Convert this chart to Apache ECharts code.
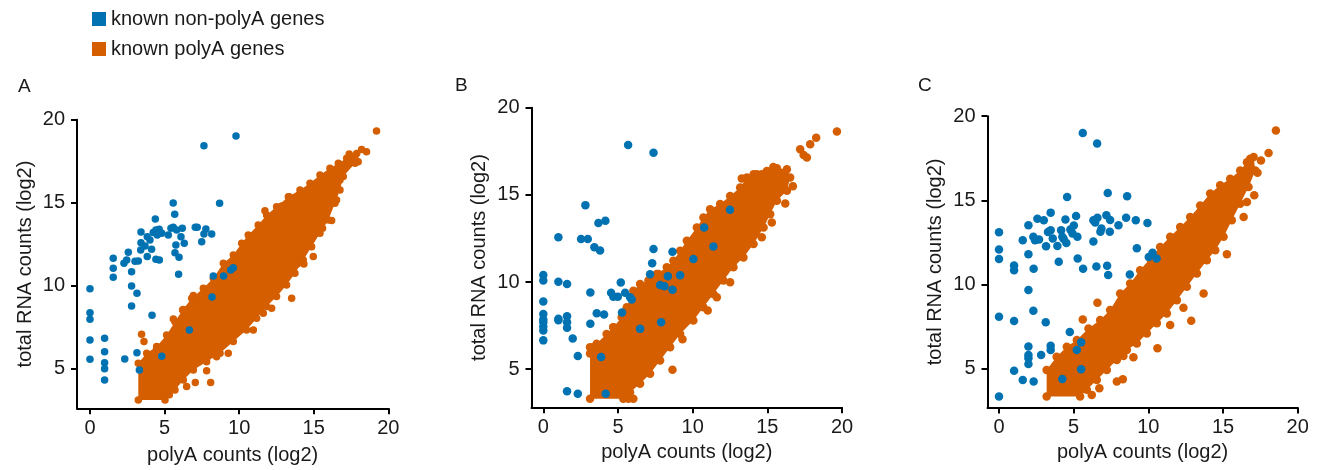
<!DOCTYPE html>
<html>
<head>
<meta charset="utf-8">
<script src="https://cdn.jsdelivr.net/npm/echarts@6/dist/echarts.min.js"></script>
<style>
  html, body { margin: 0; padding: 0; background: #ffffff; }
  #chart { width: 1331px; height: 470px; }
</style>
</head>
<body>
<div id="chart"></div>
<script>
// ---- labels ----
const SERIES_NAMES = ['known non-polyA genes', 'known polyA genes'];
const PANEL_LABELS = ['A', 'B', 'C'];
const X_TICKS = [0, 5, 10, 15, 20];
const Y_TICKS = [5, 10, 15, 20];
const X_TITLE = 'polyA counts (log2)';
const Y_TITLE = 'total RNA counts (log2)';

// ---- panel A ----
const nonPolyA_A = [
  [9.79,19.02],[7.64,18.43],[5.58,14.98],[8.69,14.96],[5.68,14.30],[4.38,14.02],[3.42,13.23],
  [3.84,12.95],[3.42,12.59],[3.40,12.15],[4.42,13.36],[4.64,13.40],[4.51,13.05],[4.81,13.16],
  [4.24,13.20],[4.02,12.75],[3.69,12.39],[4.13,12.19],[3.84,11.75],[4.42,11.59],[4.65,11.55],
  [2.57,12.01],[2.46,11.55],[2.28,11.35],[3.24,11.49],[3.02,11.47],[1.56,11.65],[1.56,11.05],
  [1.56,10.51],[2.79,10.84],[2.79,9.98],[3.15,9.54],[2.79,8.78],[4.16,8.22],[5.25,13.05],
  [5.43,13.46],[5.58,13.52],[5.81,13.36],[6.19,13.46],[6.10,12.95],[5.76,12.45],[5.70,11.99],
  [5.97,11.71],[6.32,12.55],[5.94,10.69],[7.06,13.52],[7.19,13.52],[7.77,13.42],[7.64,13.11],
  [8.16,13.11],[7.49,12.65],[8.27,10.58],[8.96,10.58],[9.43,10.95],[9.61,11.08],[8.18,9.32],
  [6.66,7.33],[4.81,5.75],[3.31,4.92],[3.15,5.96],[2.33,5.58],[0,9.82],[0,8.37],[0,7.98],
  [0,6.73],[0,5.57],[0.98,6.83],[0.98,6.02],[0.98,5.36],[0.98,5.00],[0.98,4.32]
];
// outline of the dense polyA cloud (upper edge, then lower edge back down)
const polyACloud_A = [
  [3.24,3.11],[3.24,5.32],[3.80,5.92],[4.47,6.33],[5.14,7.03],[5.70,7.83],[6.21,8.54],[6.82,9.24],
  [7.60,9.84],[8.27,10.44],[8.94,11.35],[9.61,11.85],[10.17,12.55],[10.61,13.05],[11.28,13.66],
  [11.84,14.26],[12.51,14.76],[13.30,15.36],[14.08,15.77],[14.75,16.17],[15.42,16.67],[16.09,17.07],
  [16.65,17.37],[17.21,17.67],[17.88,17.97],
  [17.77,17.37],[16.98,16.57],[16.76,15.77],[16.42,14.96],[15.98,13.96],[15.42,13.16],[14.86,12.35],
  [14.30,11.55],[13.74,10.75],[13.18,10.04],[12.51,9.34],[11.84,8.74],[11.17,8.03],[10.50,7.33],
  [9.61,6.63],[8.72,5.92],[7.82,5.42],[6.93,4.92],[6.26,4.32],[5.70,3.72],[5.03,3.11]
];
const polyA_A = [
  [19.21,19.32],[18.54,18.07],[18.21,18.21],[17.38,17.93],[17.98,17.47],[17.76,17.77],[16.53,15.16],
  [16.20,13.92],[15.59,13.46],[14.34,11.31],[13.90,11.31],[13.52,9.24],[12.85,10.24],[9.27,5.92],
  [7.82,4.88],[7.06,4.16],[8.09,4.16],[5.32,3.42],[11.73,14.52],[12.85,14.80],[13.36,15.36],
  [3.46,7.07],[3.62,6.63],[4.47,6.23],[5.59,7.99],[6.26,8.57],[6.93,9.40],[16.76,16.37],
  [14.97,11.75],[12.18,8.64],[11.62,8.33],[10.95,7.33],[8.49,5.72],[6.48,3.92]
];

// ---- panel B ----
const nonPolyA_B = [
  [5.68,17.86],[7.38,17.42],[2.82,14.41],[3.69,13.38],[4.16,13.51],[1.01,12.56],[2.53,12.47],
  [2.98,12.47],[3.42,11.99],[3.80,11.80],[7.38,11.89],[8.65,11.74],[7.29,11.07],[7.15,10.44],
  [8.34,10.33],[9.16,10.38],[7.82,9.83],[8.11,9.75],[8.65,9.55],[5.19,9.97],[4.54,9.38],
  [4.69,9.16],[4.99,9.16],[5.48,9.38],[5.81,9.12],[5.92,8.99],[3.15,9.39],[3.58,8.21],
  [4.07,8.13],[5.27,8.25],[3.15,7.60],[6.48,7.31],[7.89,7.69],[3.87,5.69],[1.97,6.76],
  [2.31,5.75],[1.59,3.73],[2.31,3.59],[4.18,3.59],[1.59,9.89],[1.01,10.02],[1.01,7.89],
  [1.01,7.80],[1.59,8.04],[1.59,7.69],[1.59,7.37],[0,10.40],[0,10.08],[0,8.88],[0,8.17],
  [0,7.85],[0,7.69],[0,7.45],[0,7.22],[0,6.65],[10.77,13.13],[11.39,12.04],[10.05,11.32],
  [12.50,14.14]
];
const polyACloud_B = [
  [3.13,3.30],[3.13,6.26],[3.57,6.45],[4.24,7.02],[4.69,7.40],[5.25,7.98],[5.59,8.55],[6.03,9.50],
  [6.48,9.89],[7.04,10.08],[7.60,10.46],[8.27,10.84],[8.71,11.22],[9.16,11.79],[9.61,12.37],
  [10.28,13.13],[10.72,13.70],[11.17,14.18],[11.84,14.47],[12.51,14.94],[13.18,15.42],[13.63,15.99],
  [14.30,16.18],[14.97,16.37],[15.64,16.53],[16.31,16.47],
  [16.53,15.99],[16.31,15.23],[15.64,14.66],[15.19,13.89],[14.75,13.13],[14.08,12.18],[13.40,11.41],
  [12.73,10.84],[12.06,10.08],[11.39,9.31],[10.72,8.55],[10.05,7.79],[9.16,7.02],[8.49,6.26],
  [7.82,5.50],[7.15,4.73],[6.48,4.16],[5.81,3.68],[5.36,3.30]
];
const polyA_B = [
  [19.66,18.63],[18.27,18.28],[17.87,17.90],[17.20,17.61],[17.43,17.29],[17.65,17.14],[16.71,15.50],
  [16.20,14.50],[15.30,13.42],[14.63,12.56],[12.51,9.98],[11.62,9.12],[11.01,8.36],[9.32,6.72],
  [8.65,4.96],[6.03,3.30],[5.70,3.30],[13.29,15.94],[14.08,16.18],[14.63,16.18],[15.40,16.60],
  [7.71,10.46],[4.69,7.40],[3.35,6.26],[3.13,5.90]
];

// ---- panel C ----
const nonPolyA_C = [
  [5.61,19.00],[6.57,18.38],[4.56,15.20],[7.28,15.44],[8.58,15.24],[0,13.10],[0,12.08],[0,11.52],
  [1.01,11.13],[1.01,10.85],[2.32,10.93],[1.97,9.67],[2.30,8.44],[0,8.08],[1.01,7.83],[3.13,7.76],
  [4.74,7.18],[1.97,6.31],[1.97,5.81],[1.97,5.62],[1.97,5.28],[2.82,5.81],[3.46,6.36],[3.46,6.11],
  [5.21,6.11],[5.50,6.56],[5.50,4.96],[4.24,4.39],[1.01,4.88],[1.59,4.33],[2.32,4.23],[0,3.34],
  [1.97,13.52],[1.59,12.63],[1.97,11.80],[2.57,13.90],[3.00,13.82],[3.46,14.27],[3.28,13.12],
  [3.46,13.22],[2.30,12.83],[2.41,12.63],[2.68,12.67],[3.15,12.27],[3.60,12.73],[3.91,12.29],
  [4.16,13.22],[4.33,12.71],[4.24,12.83],[4.45,13.86],[4.78,13.26],[5.01,13.50],[4.92,13.03],
  [5.25,12.83],[4.51,12.47],[5.16,14.07],[4.00,11.35],[5.27,11.54],[5.63,10.93],[6.32,13.82],
  [6.44,13.68],[6.59,13.96],[6.86,13.32],[6.79,13.14],[7.19,14.11],[7.44,13.83],[7.42,13.14],
  [8.00,13.52],[8.51,13.97],[9.16,13.81],[9.94,13.66],[6.32,12.55],[6.52,11.07],[7.24,11.11],
  [7.31,10.56],[8.76,10.60],[9.23,12.15],[10.03,11.64],[10.28,11.88],[10.55,11.54]
];
const polyACloud_C = [
  [3.19,3.34],[3.19,4.92],[3.86,5.71],[4.54,6.30],[5.21,6.70],[5.99,7.39],[6.77,7.89],[7.44,8.48],
  [8.11,9.47],[8.78,10.06],[9.45,10.85],[10.12,11.54],[10.79,12.23],[11.46,12.83],[12.13,13.42],
  [12.80,14.01],[13.47,14.70],[14.14,15.40],[14.81,15.89],[15.48,16.28],[16.15,16.78],[16.60,17.27],
  [17.05,17.57],
  [17.16,16.78],[16.71,15.79],[16.15,14.80],[15.59,13.81],[15.04,12.83],[14.48,12.04],[13.92,11.44],
  [13.25,10.65],[12.58,9.86],[11.91,9.07],[11.24,8.28],[10.57,7.69],[9.90,7.09],[9.23,6.50],
  [8.56,6.11],[7.89,5.51],[7.22,4.92],[6.55,4.33],[5.88,3.74],[5.43,3.34]
];
const polyA_C = [
  [18.54,19.15],[18.05,17.81],[17.54,17.37],[17.31,16.64],[16.82,17.47],[17.09,15.30],[16.60,14.90],
  [16.38,14.01],[15.26,11.80],[13.70,9.47],[12.87,7.85],[12.35,8.62],[11.46,7.59],[10.61,6.21],
  [9.00,5.67],[8.33,5.75],[8.29,4.37],[7.89,4.23],[6.72,3.83],[6.21,3.44],[5.61,7.92],[6.59,8.91]
];

// ---- drawing ----
const BLUE = '#0072B2';
const ORANGE = '#D55E00';
const FONT = '"Liberation Sans", Arial, Helvetica, sans-serif';
const INK = '#1a1a1a';

const panels = [
  { blue: nonPolyA_A, cloud: polyACloud_A, orange: polyA_A,
    grid: { left: 77, top: 119.7, width: 311.3, height: 288.6 }, xMin: -0.87, yMin: 2.61,
    dot: 7.5, xGap: 37, yGap: 42, label: { left: 18, top: 77 } },
  { blue: nonPolyA_B, cloud: polyACloud_B, orange: polyA_B,
    grid: { left: 531.5, top: 107.7, width: 310.5, height: 299.6 }, xMin: -0.79, yMin: 2.81,
    dot: 8.5, xGap: 33, yGap: 42, label: { left: 455, top: 76 } },
  { blue: nonPolyA_C, cloud: polyACloud_C, orange: polyA_C,
    grid: { left: 987.5, top: 116.2, width: 310.2, height: 291.3 }, xMin: -0.77, yMin: 2.69,
    dot: 8.5, xGap: 32, yGap: 42, label: { left: 918, top: 76 } }
];

const axisCommon = {
  type: 'value',
  max: 20,
  splitLine: { show: false },
  axisLine: { show: true, onZero: false, lineStyle: { color: '#000', width: 2 } },
  nameLocation: 'middle',
  nameTextStyle: { fontSize: 20, color: INK, fontFamily: FONT }
};

const grids = [], xAxes = [], yAxes = [], series = [], graphics = [];
panels.forEach((p, i) => {
  grids.push(Object.assign({ outerBoundsMode: 'none' }, p.grid));
  xAxes.push(Object.assign({}, axisCommon, {
    gridIndex: i, min: p.xMin, name: X_TITLE, nameGap: p.xGap,
    axisTick: { show: true, length: 6, customValues: X_TICKS, lineStyle: { color: '#000', width: 2 } },
    axisLabel: { customValues: X_TICKS, fontSize: 20, color: INK, fontFamily: FONT, margin: 10 }
  }));
  yAxes.push(Object.assign({}, axisCommon, {
    gridIndex: i, min: p.yMin, name: Y_TITLE, nameGap: p.yGap,
    axisTick: { show: true, length: 6, customValues: Y_TICKS, lineStyle: { color: '#000', width: 2 } },
    axisLabel: { customValues: Y_TICKS, fontSize: 20, color: INK, fontFamily: FONT, margin: 12 }
  }));
  const cloud = p.cloud;
  // dense core of the polyA genes, filled between its outline points
  series.push({
    type: 'custom', name: SERIES_NAMES[1], xAxisIndex: i, yAxisIndex: i, silent: true,
    data: [cloud[0]],
    renderItem: (params, api) => ({
      type: 'polygon',
      shape: { points: cloud.map(pt => api.coord(pt)) },
      style: { fill: ORANGE }
    })
  });
  series.push({
    type: 'scatter', name: SERIES_NAMES[1], xAxisIndex: i, yAxisIndex: i, silent: true,
    symbolSize: p.dot, itemStyle: { color: ORANGE, opacity: 1 },
    data: cloud.concat(p.orange)
  });
  series.push({
    type: 'scatter', name: SERIES_NAMES[0], xAxisIndex: i, yAxisIndex: i, silent: true,
    symbolSize: p.dot, itemStyle: { color: BLUE, opacity: 1 },
    data: p.blue
  });
  graphics.push({
    type: 'text', left: p.label.left, top: p.label.top,
    style: { text: PANEL_LABELS[i], fontSize: 19, fill: INK, fontFamily: FONT }
  });
});

const chart = echarts.init(document.getElementById('chart'), null, { renderer: 'canvas' });
chart.setOption({
  backgroundColor: '#ffffff',
  animation: false,
  textStyle: { fontFamily: FONT },
  legend: {
    orient: 'vertical', left: 92, top: 9, padding: 0, icon: 'rect',
    itemWidth: 14, itemHeight: 14, itemGap: 10, selectedMode: false,
    textStyle: { fontSize: 20, color: INK, fontFamily: FONT },
    data: [
      { name: SERIES_NAMES[0], itemStyle: { color: BLUE } },
      { name: SERIES_NAMES[1], itemStyle: { color: ORANGE } }
    ]
  },
  grid: grids,
  xAxis: xAxes,
  yAxis: yAxes,
  series: series,
  graphic: graphics
});
</script>
</body>
</html>
